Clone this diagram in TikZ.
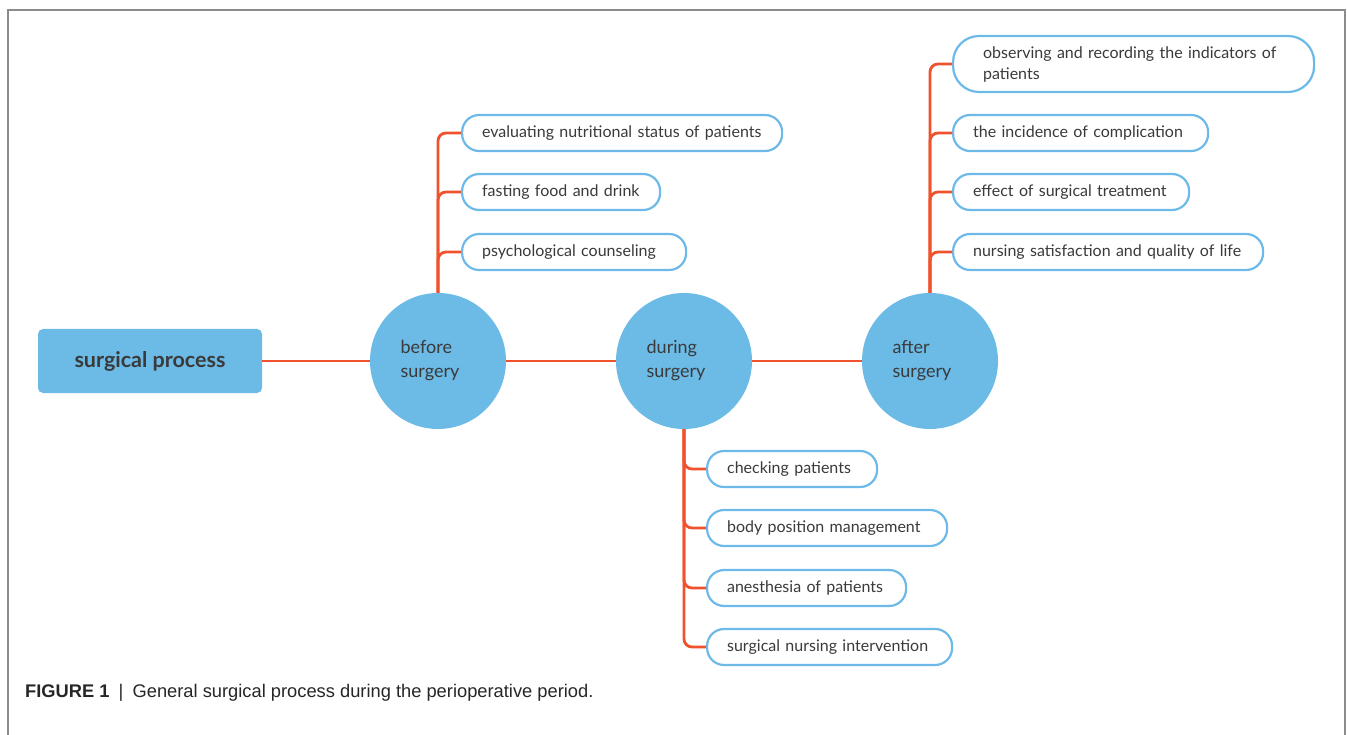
\documentclass[tikz,border=0pt]{standalone}
\usepackage{fontspec}
\setmainfont{Lato}
\newfontfamily\capfont{Liberation Sans}
\definecolor{nodeblue}{HTML}{6CBAE6}
\definecolor{pillblue}{HTML}{6DB9E8}
\definecolor{branchred}{HTML}{F0522E}
\definecolor{txt}{HTML}{3A3A3A}
\definecolor{frame}{HTML}{8C8C8C}
\begin{document}
\begin{tikzpicture}[x=1pt,y=-1pt,
  rootbox/.style={rectangle, rounded corners=5pt, fill=nodeblue, minimum width=224pt, minimum height=64pt, font=\fontsize{21.5}{26}\selectfont\bfseries, text=txt},
  phase/.style={circle, fill=nodeblue, minimum size=136pt, inner sep=0pt, font=\fontsize{18}{24}\selectfont, text=txt, align=left},
  pill/.style={rectangle, draw=pillblue, line width=2.2pt, fill=white, rounded corners=17pt, minimum height=36pt, inner xsep=20pt, inner ysep=0pt, align=left, anchor=west, font=\fontsize{16}{19}\selectfont, text=txt},
  branch/.style={draw=branchred, line width=2.8pt, rounded corners=8pt},
  link/.style={draw=branchred, line width=2.8pt}
]
\useasboundingbox (0,0) rectangle (1347,735);
\draw[frame, line width=1.5pt] (8,735) -- (8,10) -- (1345,10) -- (1345,735);

\node[rootbox] (root) at (150,361) {surgical process};
\node[phase] (before) at (438,361) {\hspace*{-16pt}before\\\hspace*{-16pt}surgery};
\node[phase] (during) at (684,361) {\hspace*{-16pt}during\\\hspace*{-16pt}surgery};
\node[phase] (after) at (930,361) {\hspace*{-16pt}after\\\hspace*{-16pt}surgery};

\draw[link] (root.east) -- (before.west);
\draw[link] (before.east) -- (during.west);
\draw[link] (during.east) -- (after.west);

% before
\node[pill, text width=280pt] (b1) at (461,133) {evaluating nutritional status of patients};
\node[pill, text width=158pt] (b2) at (461,192) {fasting food and drink};
\node[pill, text width=184pt] (b3) at (461,252) {psychological counseling};
% after
\node[pill, text width=301pt, inner xsep=30pt, minimum height=56pt, rounded corners=26pt, font=\fontsize{16}{21}\selectfont] (a1) at (952,64) {observing and recording the indicators of\\patients};
\node[pill, text width=215pt] (a2) at (952,133) {the incidence of complication};
\node[pill, text width=196pt] (a3) at (952,192) {effect of surgical treatment};
\node[pill, text width=270pt] (a4) at (952,252) {nursing satisfaction and quality of life};
% during
\node[pill, text width=130pt] (d1) at (706,469) {checking patients};
\node[pill, text width=200pt] (d2) at (706,528) {body position management};
\node[pill, text width=159pt] (d3) at (706,588) {anesthesia of patients};
\node[pill, text width=205pt] (d4) at (706,647) {surgical nursing intervention};

\foreach \p in {b1,b2,b3} \draw[branch] (before.north) |- (\p.west);
\foreach \p in {a1,a2,a3,a4} \draw[branch] (after.north) |- (\p.west);
\foreach \p in {d1,d2,d3,d4} \draw[branch] (during.south) |- (\p.west);

\node[anchor=base west, inner sep=0pt, font=\capfont\fontsize{18.3}{22}\selectfont, text=black!85] (cap) at (25,697) {\textbf{FIGURE 1}\enspace|\enspace General surgical process during the perioperative period.};
\end{tikzpicture}
\end{document}
